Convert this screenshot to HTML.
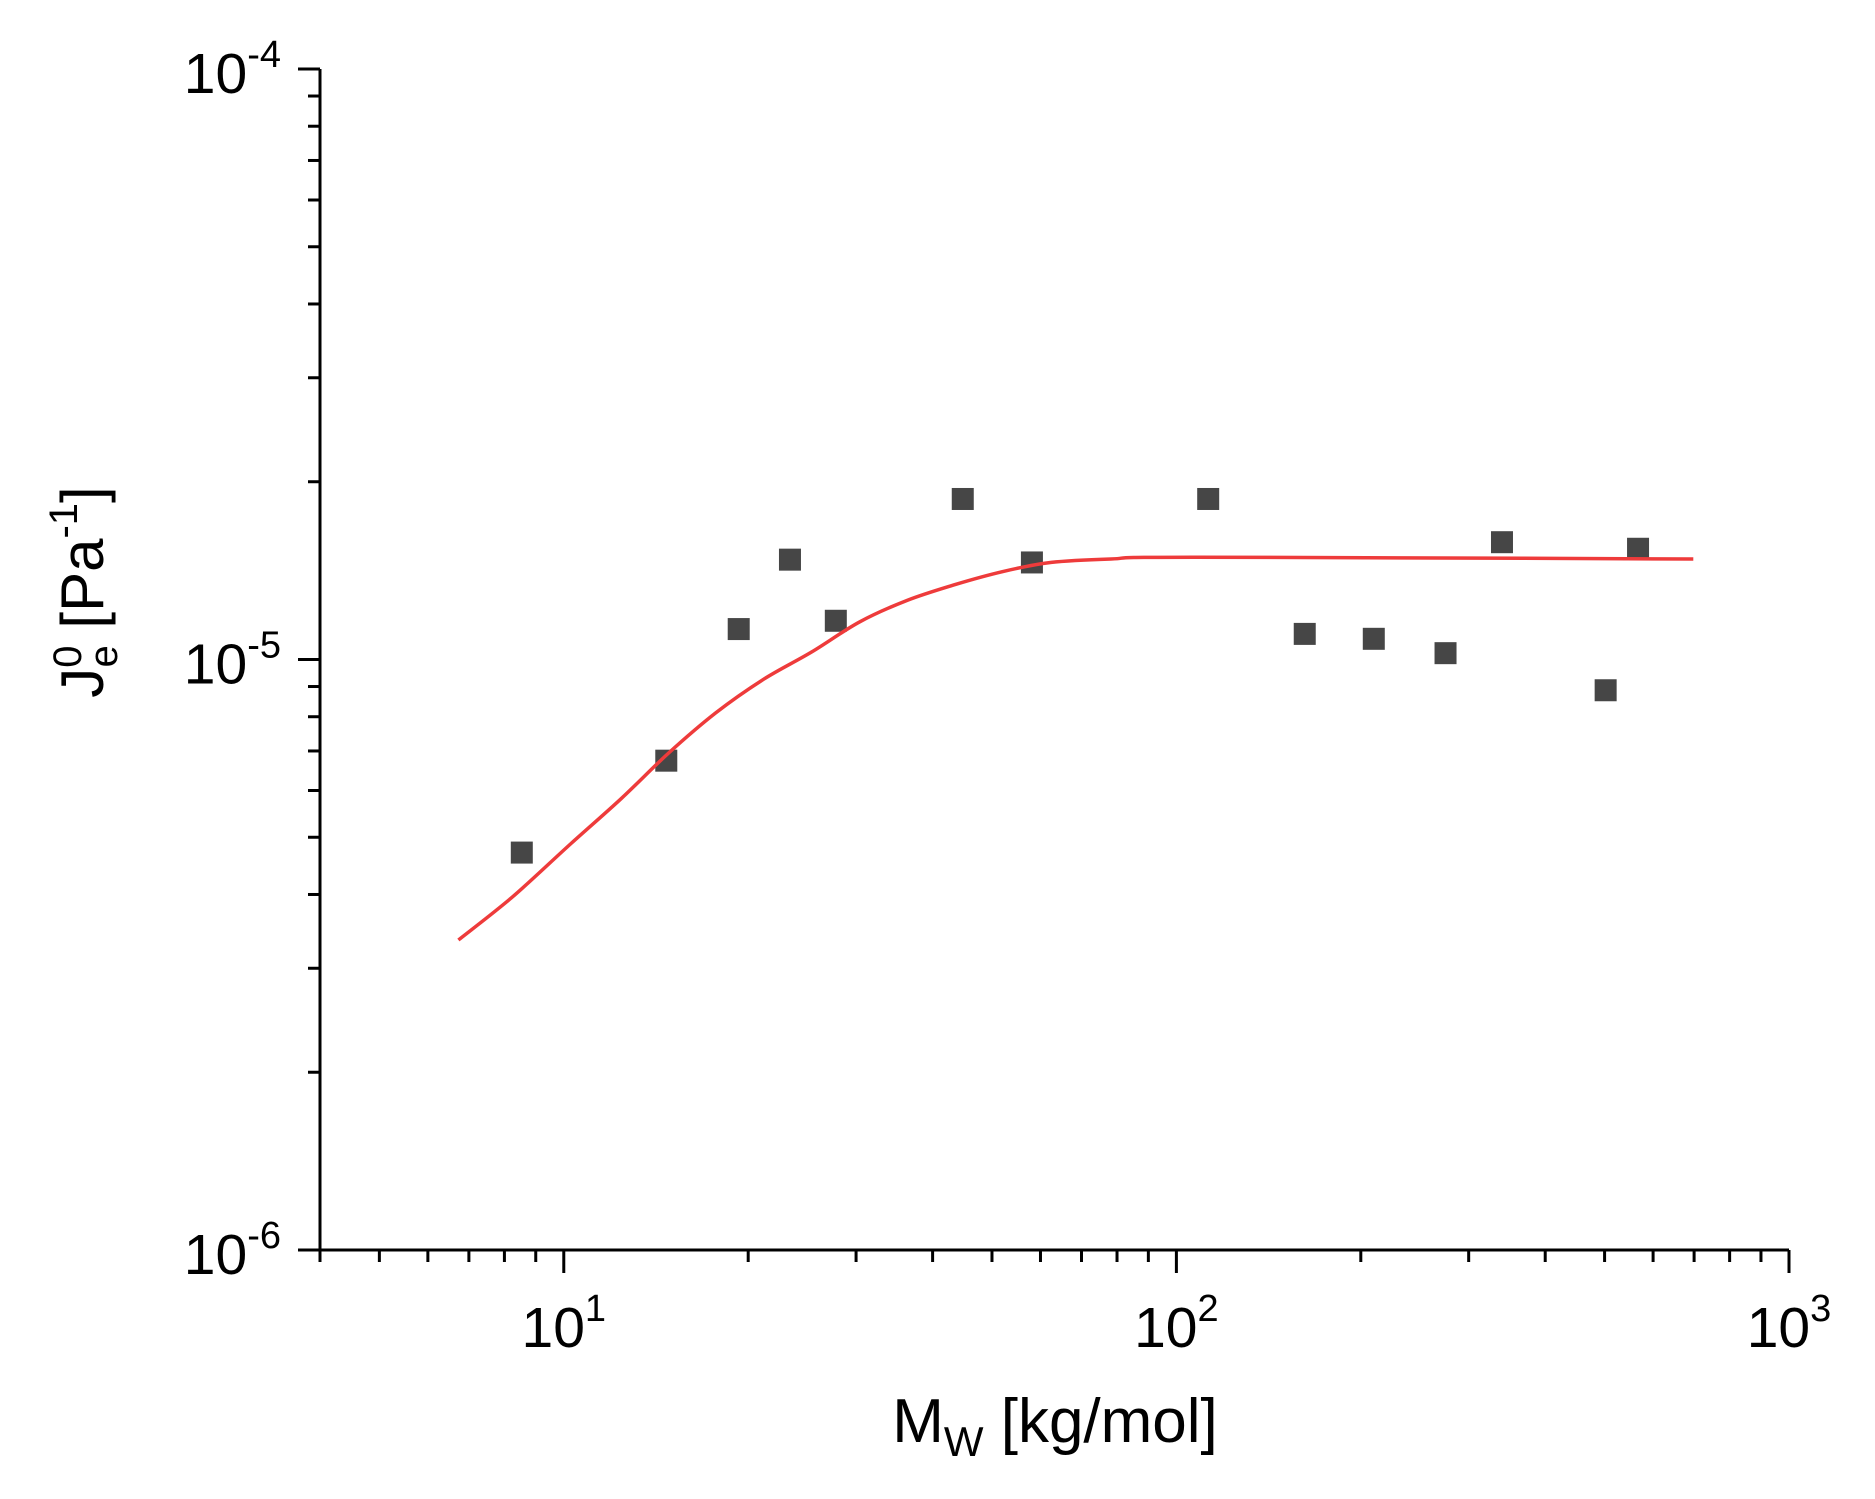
<!DOCTYPE html>
<html><head><meta charset="utf-8"><style>
html,body{margin:0;padding:0;background:#fff}
svg text{font-family:"Liberation Sans",Arial,sans-serif;fill:#000}
</style></head><body>
<svg id="chart" width="1875" height="1494" viewBox="0 0 1875 1494" xmlns="http://www.w3.org/2000/svg"></svg>
<script>
const pointsX=[8.54,14.7,19.3,23.4,27.8,44.8,58.1,112.7,162,210,275,340,502,567];
const pointsY=[4.71e-6,6.74e-6,1.126e-5,1.476e-5,1.163e-5,1.87e-5,1.46e-5,1.87e-5,1.105e-5,1.084e-5,1.025e-5,1.58e-5,8.87e-6,1.54e-5];
const fitX=[6.73,8.24,10.3,12.4,14.8,17.7,21.2,25.4,30.4,36.4,43.6,52.2,62.5,78.2,107,698];
const fitY=[3.35e-6,3.96e-6,4.89e-6,5.81e-6,6.93e-6,8.12e-6,9.26e-6,1.03e-5,1.158e-5,1.26e-5,1.34e-5,1.41e-5,1.46e-5,1.48e-5,1.49e-5,1.48e-5];
const xTickExps=[1,2,3];
const yTickExps=[-4,-5,-6];

const NS="http://www.w3.org/2000/svg";
const svg=document.getElementById('chart');
const X0=320,X1=1789,Y0=1250,Y1=69;
const xMin=Math.log10(4),xMax=3,yMin=-6,yMax=-4;
function sx(v){return X0+(Math.log10(v)-xMin)/(xMax-xMin)*(X1-X0);}
function sy(v){return Y0-(Math.log10(v)-yMin)/(yMax-yMin)*(Y0-Y1);}
function el(t,a,p){const e=document.createElementNS(NS,t);for(const k in a)e.setAttribute(k,a[k]);(p||svg).appendChild(e);return e;}

const ax=el('path',{d:`M${X0},${Y1} L${X0},${Y0} L${X1},${Y0}`,fill:'none',stroke:'#000','stroke-width':3});



for(let d=-6;d<=-4;d++){for(let m=1;m<10;m++){if(d===-4&&m>1)break;const v=m*Math.pow(10,d);const y=sy(v);const len=m===1?22:12;
const t=el('line',{x1:X0-len,x2:X0,y1:y,y2:y,stroke:'#000','stroke-width':3});

}}
yTickExps.forEach(e=>{const y=sy(Math.pow(10,e));
const t=el('text',{x:281,y:y+24,'text-anchor':'end','font-size':57});


t.innerHTML=`10<tspan dy="-26" font-size="38">${e}</tspan>`;});

for(let d=0;d<=3;d++){for(let m=1;m<10;m++){const v=m*Math.pow(10,d);if(v<4)continue;if(v>1000)break;const x=sx(v);const len=m===1?23:12;
const t=el('line',{x1:x,x2:x,y1:Y0,y2:Y0+len,stroke:'#000','stroke-width':3});

}}
xTickExps.forEach(e=>{const x=sx(Math.pow(10,e));
const t=el('text',{x:x,y:1347,'text-anchor':'middle','font-size':57});


t.innerHTML=`10<tspan dy="-26" font-size="38">${e}</tspan>`;});

const xt=el('text',{x:1055,y:1442,'text-anchor':'middle','font-size':62});


xt.innerHTML='M<tspan dy="14" font-size="42">W</tspan><tspan dy="-14"> [kg/mol]</tspan>';
const yt=el('text',{x:0,y:0,'text-anchor':'middle','font-size':60,transform:'translate(103,592) rotate(-90)'});


yt.innerHTML='J<tspan dy="-22" font-size="40">0</tspan><tspan dy="36" dx="-22" font-size="40">e</tspan><tspan dy="-14"> [Pa</tspan><tspan dy="-26" font-size="40">-1</tspan><tspan dy="26">]</tspan>';

pointsX.forEach((xv,i)=>{const x=sx(xv),y=sy(pointsY[i]);
const r=el('rect',{x:x-11,y:y-11,width:22,height:22,fill:'#464646'});

});

const P=fitX.map((xv,i)=>[sx(xv),sy(fitY[i])]);
let d='M'+P[0][0].toFixed(1)+','+P[0][1].toFixed(1);
for(let i=0;i<P.length-1;i++){const p0=P[i-1]||P[i],p1=P[i],p2=P[i+1],p3=P[i+2]||P[i+1];
const c1=[p1[0]+(p2[0]-p0[0])/6,p1[1]+(p2[1]-p0[1])/6],c2=[p2[0]-(p3[0]-p1[0])/6,p2[1]-(p3[1]-p1[1])/6];
d+=` C${c1[0].toFixed(1)},${c1[1].toFixed(1)} ${c2[0].toFixed(1)},${c2[1].toFixed(1)} ${p2[0].toFixed(1)},${p2[1].toFixed(1)}`;}
const c=el('path',{d:d,fill:'none',stroke:'#ee3b3b','stroke-width':3.5,'stroke-linejoin':'round'});


</script>
</body></html>
